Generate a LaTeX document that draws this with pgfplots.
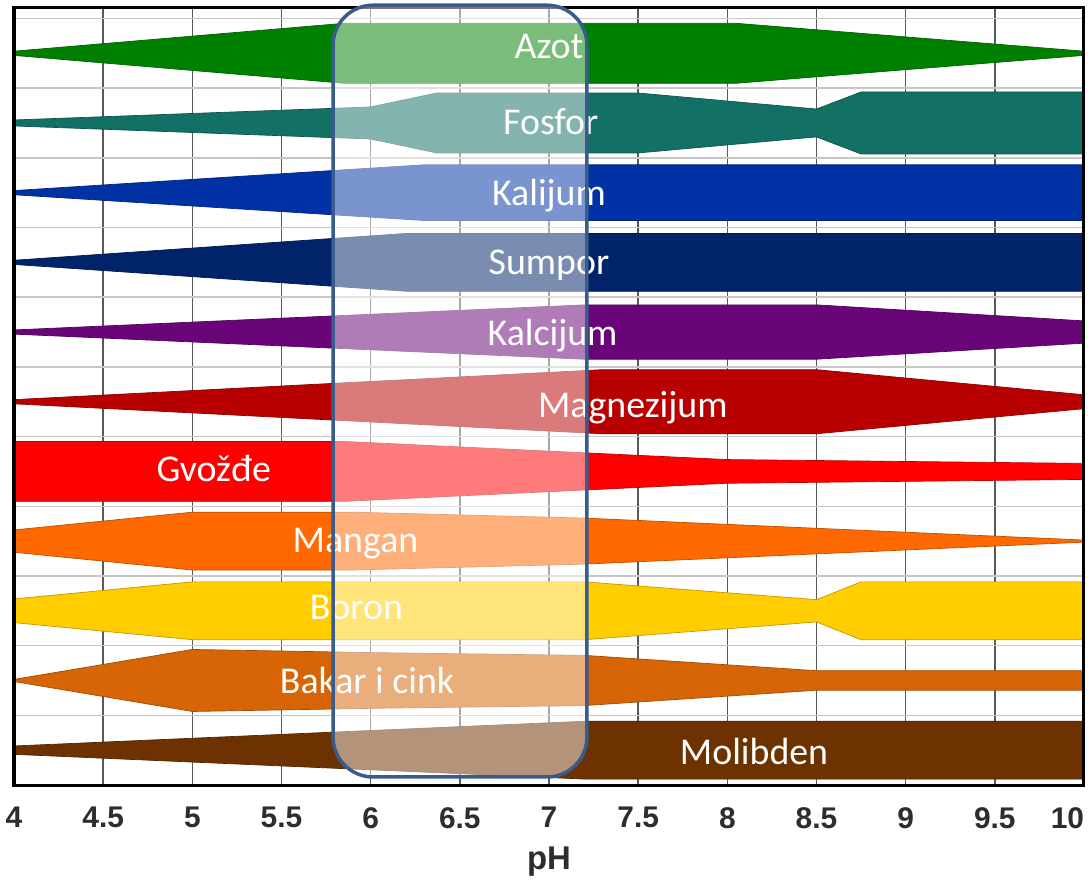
\documentclass[border=0pt]{standalone}
\usepackage{fontspec}
\setmainfont{Carlito}
\newfontfamily\arialfont{Liberation Sans}
\usepackage{pgfplots}
\pgfplotsset{compat=1.18}
\definecolor{cAzot}{RGB}{0,128,0}
\definecolor{cFosfor}{RGB}{18,112,100}
\definecolor{cKalijum}{RGB}{0,50,165}
\definecolor{cSumpor}{RGB}{0,35,105}
\definecolor{cKalcijum}{RGB}{105,5,120}
\definecolor{cMagnezijum}{RGB}{185,0,0}
\definecolor{cGvozdje}{RGB}{255,0,0}
\definecolor{cMangan}{RGB}{255,105,0}
\definecolor{cBoron}{RGB}{255,205,0}
\definecolor{cBakar}{RGB}{215,100,5}
\definecolor{cMolibden}{RGB}{110,50,0}
\definecolor{ovblue}{RGB}{58,92,140}
\definecolor{tickgray}{RGB}{45,45,45}
\begin{document}
\begin{tikzpicture}
\begin{axis}[
  scale only axis, width=1070bp, height=777bp,
  xmin=4, xmax=10, ymin=0, ymax=11.15,
  xtick={4,4.5,5,5.5,6,6.5,7,7.5,8,8.5,9,9.5,10},
  xticklabels={4,4.5,5,5.5,6,6.5,7,7.5,8,8.5,9,9.5,\makebox[0pt][r]{10}},
  ytick={1,2,3,4,5,6,7,8,9,10,11}, yticklabels={},
  xmajorgrids, ymajorgrids,
  major tick length=0,
  x grid style={draw=black!65, line width=1.5bp},
  y grid style={draw=black!22, line width=1.5bp},
  axis line style={draw=none},
  xticklabel style={font=\arialfont\bfseries\fontsize{30}{33}\selectfont, text=tickgray, anchor=north, inner sep=0pt, yshift=-22bp},
  clip=false,
  every axis plot/.append style={line width=0.7bp},
]
% Azot
\addplot[fill=cAzot, draw=cAzot!75!black] coordinates {(4,10.53) (5.85,10.93) (8.05,10.93) (10,10.53) (10,10.47) (8.05,10.07) (5.85,10.07) (4,10.47)} --cycle;
% Fosfor
\addplot[fill=cFosfor, draw=cFosfor!75!black] coordinates {(4,9.543) (6.0,9.73) (6.37,9.93) (7.5,9.93) (8.5,9.70) (8.75,9.945) (10,9.945) (10,9.055) (8.75,9.055) (8.5,9.30) (7.5,9.07) (6.37,9.07) (6.0,9.27) (4,9.457)} --cycle;
% Kalijum
\addplot[fill=cKalijum, draw=cKalijum!75!black] coordinates {(4,8.53) (6.3,8.90) (10,8.90) (10,8.10) (6.3,8.10) (4,8.47)} --cycle;
% Sumpor
\addplot[fill=cSumpor, draw=cSumpor!75!black] coordinates {(4,7.53) (6.2,7.915) (10,7.915) (10,7.085) (6.2,7.085) (4,7.47)} --cycle;
% Kalcijum
\addplot[fill=cKalcijum, draw=cKalcijum!75!black] coordinates {(4,6.53) (7.2,6.89) (8.5,6.89) (10,6.66) (10,6.34) (8.5,6.11) (7.2,6.11) (4,6.47)} --cycle;
% Magnezijum
\addplot[fill=cMagnezijum, draw=cMagnezijum!75!black] coordinates {(4,5.53) (7.3,5.96) (8.5,5.96) (10,5.60) (10,5.40) (8.5,5.04) (7.3,5.04) (4,5.47)} --cycle;
% Gvozdje
\addplot[fill=cGvozdje, draw=cGvozdje!75!black] coordinates {(4,4.93) (5.85,4.93) (8.0,4.67) (10,4.615) (10,4.385) (8.0,4.33) (5.85,4.07) (4,4.07)} --cycle;
% Mangan
\addplot[fill=cMangan, draw=cMangan!75!black] coordinates {(4,3.66) (5,3.915) (5.9,3.915) (7.2,3.83) (10,3.515) (10,3.485) (7.2,3.17) (5.9,3.085) (5,3.085) (4,3.34)} --cycle;
% Boron
\addplot[fill=cBoron, draw=cBoron!75!black] coordinates {(4,2.67) (5,2.915) (7.2,2.915) (8.5,2.66) (8.75,2.915) (10,2.915) (10,2.085) (8.75,2.085) (8.5,2.34) (7.2,2.085) (5,2.085) (4,2.33)} --cycle;
% Bakar i cink
\addplot[fill=cBakar, draw=cBakar!75!black] coordinates {(4,1.515) (5,1.945) (6.0,1.90) (7.2,1.86) (8.5,1.64) (10,1.64) (10,1.36) (8.5,1.36) (7.2,1.14) (6.0,1.10) (5,1.055) (4,1.485)} --cycle;
% Molibden
\addplot[fill=cMolibden, draw=cMolibden!75!black] coordinates {(4,0.56) (7.2,0.915) (10,0.915) (10,0.085) (7.2,0.085) (4,0.44)} --cycle;

% frame
\draw[black, line width=3bp] (rel axis cs:0,0) rectangle (rel axis cs:1,1);

% labels
\begin{scope}[every node/.style={anchor=base, text=white, inner sep=0pt, font=\fontsize{38}{41}\selectfont}]
\node at (axis cs:7.0,10.43) {Azot};
\node at (axis cs:7.01,9.33) {Fosfor};
\node at (axis cs:7.0,8.32) {Kalijum};
\node at (axis cs:7.0,7.32) {Sumpor};
\node at (axis cs:7.02,6.31) {Kalcijum};
\node at (axis cs:7.47,5.28) {Magnezijum};
\node at (axis cs:5.12,4.35) {Gvožđe};
\node at (axis cs:5.915,3.34) {Mangan};
\node at (axis cs:5.92,2.37) {Boron};
\node at (axis cs:5.98,1.32) {Bakar i cink};
\node at (axis cs:8.15,0.29) {Molibden};
\end{scope}

% highlighted range
\draw[rounded corners=40bp, fill=white, fill opacity=0.48, draw=ovblue, line width=3.5bp] (axis cs:5.789,0.115) rectangle (axis cs:7.213,11.19);

% x label
\node[font=\arialfont\bfseries\fontsize{33}{36}\selectfont, text=tickgray, anchor=center] at ([yshift=-77bp]rel axis cs:0.5,0) {pH};
\end{axis}
\pgfresetboundingbox
\path (-14bp,-100bp) rectangle (1077bp,785bp);
\end{tikzpicture}
\end{document}
